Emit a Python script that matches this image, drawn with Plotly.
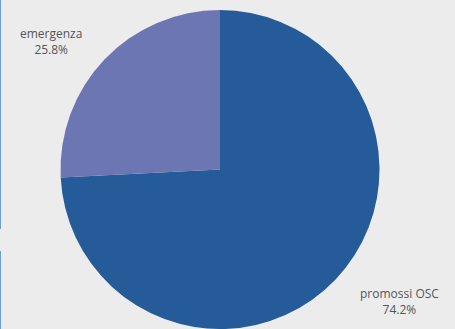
import plotly.graph_objects as go

# Share of services by origin
labels = ["promossi OSC", "emergenza"]
values = [74.2, 25.8]
colors = ["#245b98", "#6b76b2"]

# Label anchor points (paper fractions) for each slice's caption
label_x = [399 / 455, 51 / 455]
label_y = [1 - 301 / 329, 1 - 42 / 329]

fig = go.Figure(
    go.Pie(
        labels=labels,
        values=values,
        sort=False,
        direction="clockwise",
        rotation=0,
        marker=dict(colors=colors, line=dict(width=0)),
        textinfo="none",
        showlegend=False,
        automargin=False,
        hoverinfo="label+percent",
        domain=dict(x=[59 / 455, 381 / 455], y=[0, 319 / 329]),
    )
)

total = sum(values)
for lab, val, lx, ly in zip(labels, values, label_x, label_y):
    fig.add_annotation(
        x=lx, y=ly, xref="paper", yref="paper",
        xanchor="center", yanchor="middle", showarrow=False,
        text=f"{lab}<br>{val / total * 100:.1f}%",
        font=dict(family="Open Sans", size=12, color="#555555"),
    )

# Thin accent rule along the left edge, interrupted once
fig.add_shape(type="rect", xref="paper", yref="paper",
              x0=0, x1=1 / 455, y0=1 - 229 / 329, y1=1,
              fillcolor="#6d9dd3", line=dict(width=0), layer="above")
fig.add_shape(type="rect", xref="paper", yref="paper",
              x0=0, x1=1 / 455, y0=0, y1=1 - 251 / 329,
              fillcolor="#6d9dd3", line=dict(width=0), layer="above")

fig.update_layout(
    width=455,
    height=329,
    margin=dict(l=0, r=0, t=0, b=0, autoexpand=False),
    paper_bgcolor="#ececec",
    plot_bgcolor="#ececec",
)

fig.write_html("out.html")
